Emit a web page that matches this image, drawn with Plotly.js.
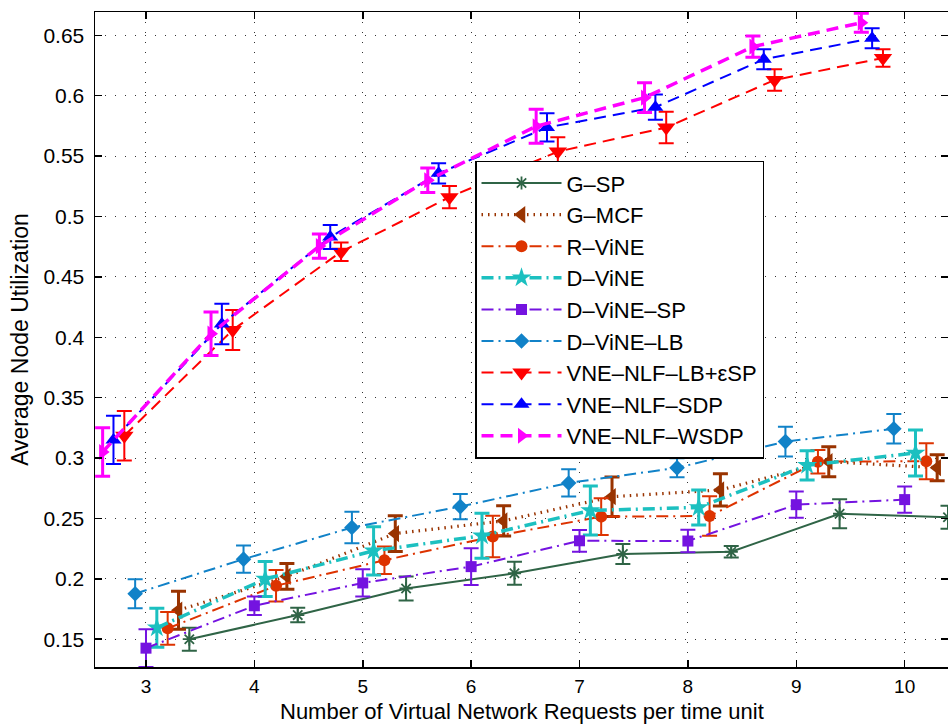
<!DOCTYPE html>
<html>
<head>
<meta charset="utf-8">
<script src="https://cdn.plot.ly/plotly-3.0.1.min.js"></script>
<style>
  html, body { margin: 0; padding: 0; background: #fff; }
  #chart { width: 948px; height: 726px; }
</style>
</head>
<body>
<div id="chart"></div>
<script>
// Request rates (virtual network requests per time unit)
const requestRates = [3, 4, 5, 6, 7, 8, 9, 10];

// Average node utilization per algorithm, with symmetric error half-widths
const gSP        = [0.150, 0.170, 0.192, 0.2046, 0.2206, 0.2224, 0.2539, 0.251];
const gSPErr     = [0.0095, 0.006, 0.010, 0.0096, 0.0083, 0.0048, 0.012, 0.0096];
const gMCF       = [0.174, 0.202, 0.2375, 0.248, 0.268, 0.2736, 0.297, 0.292];
const gMCFErr    = [0.0157, 0.0107, 0.0148, 0.0125, 0.0163, 0.0133, 0.0124, 0.0107];
const rViNE      = [0.159, 0.1943, 0.2154, 0.235, 0.2515, 0.252, 0.297, 0.2974];
const rViNEErr   = [0.0135, 0.013, 0.0113, 0.0172, 0.0152, 0.0163, 0.0097, 0.0149];
const dViNE      = [0.1595, 0.1998, 0.2232, 0.2357, 0.2566, 0.2591, 0.294, 0.3042];
const dViNEErr   = [0.0162, 0.0145, 0.020, 0.0186, 0.0203, 0.0145, 0.0121, 0.019];
const dViNESP    = [0.1426, 0.1777, 0.1966, 0.2101, 0.2315, 0.2313, 0.2614, 0.2656];
const dViNESPErr = [0.0157, 0.0076, 0.0113, 0.0152, 0.009, 0.0093, 0.0108, 0.0108];
const dViNELB    = [0.1877, 0.2163, 0.2425, 0.2598, 0.2794, 0.2919, 0.3136, 0.3243];
const dViNELBErr = [0.012, 0.0112, 0.0131, 0.0105, 0.0113, 0.0079, 0.0124, 0.0122];
const nlfLB      = [0.3185, 0.406, 0.4708, 0.516, 0.5537, 0.5737, 0.613, 0.6312];
const nlfLBErr   = [0.0205, 0.0166, 0.0076, 0.0092, 0.012, 0.0131, 0.0089, 0.0072];
const nlfSDP     = [0.315, 0.411, 0.483, 0.5357, 0.5737, 0.5905, 0.6301, 0.6476];
const nlfSDPErr  = [0.020, 0.0168, 0.010, 0.0083, 0.0117, 0.0105, 0.0083, 0.0083];
const nlfWSDP    = [0.305, 0.403, 0.4755, 0.530, 0.5747, 0.5984, 0.6406, 0.6604];
const nlfWSDPErr = [0.020, 0.018, 0.010, 0.0102, 0.014, 0.0124, 0.0088, 0.0079];

// Axis ticks
const xTickVals = [3, 4, 5, 6, 7, 8, 9, 10];
const yTickVals = [0.15, 0.2, 0.25, 0.3, 0.35, 0.4, 0.45, 0.5, 0.55, 0.6, 0.65];
const yTickText = ['0.15', '0.2', '0.25', '0.3', '0.35', '0.4', '0.45', '0.5', '0.55', '0.6', '0.65'];

// Each series is shifted sideways so the error bars do not overlap
function series(name, y, err, shift, color, dash, width, symbol, size, opts) {
  opts = opts || {};
  return {
    type: 'scatter',
    mode: 'lines+markers',
    name: name,
    x: requestRates.map(v => v + shift),
    y: y,
    line: { color: color, dash: dash, width: width },
    marker: { symbol: symbol, size: size, color: color,
              line: { color: color, width: opts.mlw || 0 } },
    error_y: { type: 'data', array: err, visible: true, color: color,
               thickness: opts.eth || 2, width: 7.5 }
  };
}

const dashed = '12px,7px';
const dashDot = '12px,5px,2px,5px';

const traces = [
  series('G\u2013SP', gSP, gSPErr, 0.4, '#2f6446', 'solid', 2, 'asterisk-open', 11, { mlw: 1.8 }),
  series('G\u2013MCF', gMCF, gMCFErr, 0.3, '#993300', '1.5px,5px', 3.2, 'triangle-left', 15, { eth: 3 }),
  series('R\u2013ViNE', rViNE, rViNEErr, 0.2, '#dd3300', dashDot, 2, 'circle', 12),
  series('D\u2013ViNE', dViNE, dViNEErr, 0.1, '#1cc0c0', dashDot, 3.5, 'star', 15, { eth: 3 }),
  series('D\u2013ViNE\u2013SP', dViNESP, dViNESPErr, 0.0, '#7413e0', dashDot, 2, 'square', 11),
  series('D\u2013ViNE\u2013LB', dViNELB, dViNELBErr, -0.1, '#1182c8', dashDot, 2, 'diamond', 12),
  series('VNE\u2013NLF\u2013LB+\u03b5SP', nlfLB, nlfLBErr, -0.2, '#ff0000', dashed, 2, 'triangle-down', 16),
  series('VNE\u2013NLF\u2013SDP', nlfSDP, nlfSDPErr, -0.3, '#0000ff', dashed, 2, 'triangle-up', 14),
  series('VNE\u2013NLF\u2013WSDP', nlfWSDP, nlfWSDPErr, -0.4, '#ff00ff', dashed, 3.5, 'triangle-right', 14, { eth: 3 })
];

const font = 'Liberation Sans, Arial, Helvetica, sans-serif';

const axisCommon = {
  showline: true, linecolor: '#000', linewidth: 1.5, mirror: 'ticks',
  ticks: 'inside', ticklen: 7, tickwidth: 1.5, tickcolor: '#000',
  showgrid: true, gridcolor: '#333', gridwidth: 1, griddash: '1px,9px',
  zeroline: false
};

const layout = {
  width: 948, height: 726,
  margin: { l: 95, r: 0, t: 12, b: 59 },
  paper_bgcolor: '#fff', plot_bgcolor: '#fff',
  font: { family: font, color: '#000' },
  showlegend: true,
  xaxis: Object.assign({}, axisCommon, {
    range: [2.5295, 10.4], tickmode: 'array', tickvals: xTickVals,
    ticklabelstandoff: 2,
    tickfont: { family: font, size: 19, color: '#000' }
  }),
  yaxis: Object.assign({}, axisCommon, {
    range: [0.127, 0.6693], tickmode: 'array', tickvals: yTickVals, ticktext: yTickText,
    ticklabelstandoff: 5,
    tickfont: { family: font, size: 21, color: '#000' },
    title: { text: 'Average Node Utilization',
             font: { family: font, size: 23, color: '#000' }, standoff: 8 }
  }),
  annotations: [{
    text: 'Number of Virtual Network Requests per time unit',
    xref: 'paper', yref: 'paper', x: 0.5, y: -0.0895,
    xanchor: 'center', yanchor: 'bottom', showarrow: false,
    font: { family: font, size: 22, color: '#000' }
  }],
  legend: {
    x: 0.4455, y: 0.773, xanchor: 'left', yanchor: 'top',
    bgcolor: '#fff', bordercolor: '#000', borderwidth: 1.5,
    font: { family: font, size: 22, color: '#000' },
    itemwidth: 80, traceorder: 'normal', tracegroupgap: 0
  }
};

Plotly.newPlot('chart', traces, layout, { staticPlot: true, displayModeBar: false });
</script>
</body>
</html>
